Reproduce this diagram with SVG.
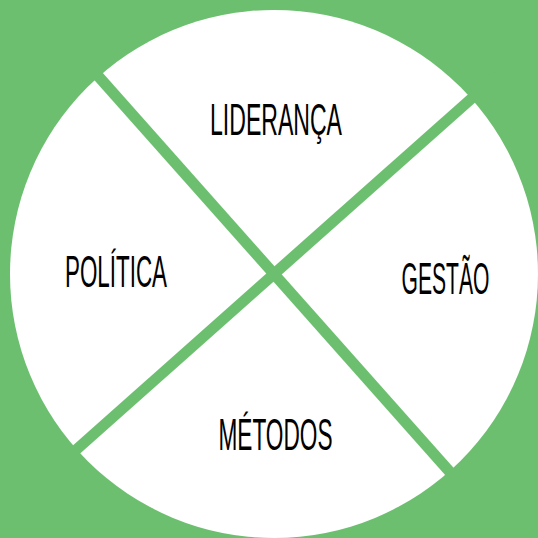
<svg xmlns="http://www.w3.org/2000/svg" width="538" height="538" viewBox="0 0 538 538">
<style>
.bg{fill:#6dbf70}
.disc{fill:#ffffff}
.div{stroke:#6dbf70;stroke-width:11;fill:none}
.lbl{font-family:"Liberation Sans","DejaVu Sans Condensed",sans-serif;font-size:44px;fill:#000000;text-anchor:middle}
</style>
<rect class="bg" x="0" y="0" width="538" height="538"/>
<circle class="disc" cx="274" cy="274" r="264"/>
<g id="connectors">
<line class="div" x1="75" y1="50" x2="473" y2="498"/>
<line class="div" x1="498" y1="75" x2="50" y2="473"/>
</g>
<g id="lideranca"><text class="lbl" x="276" y="135" textLength="132" lengthAdjust="spacingAndGlyphs">LIDERANÇA</text></g>
<g id="politica"><text class="lbl" x="116" y="287" textLength="102" lengthAdjust="spacingAndGlyphs">POLÍTICA</text></g>
<g id="gestao"><text class="lbl" x="445.5" y="294" textLength="88" lengthAdjust="spacingAndGlyphs">GESTÃO</text></g>
<g id="metodos"><text class="lbl" x="275.5" y="450" textLength="114" lengthAdjust="spacingAndGlyphs">MÉTODOS</text></g>
</svg>
